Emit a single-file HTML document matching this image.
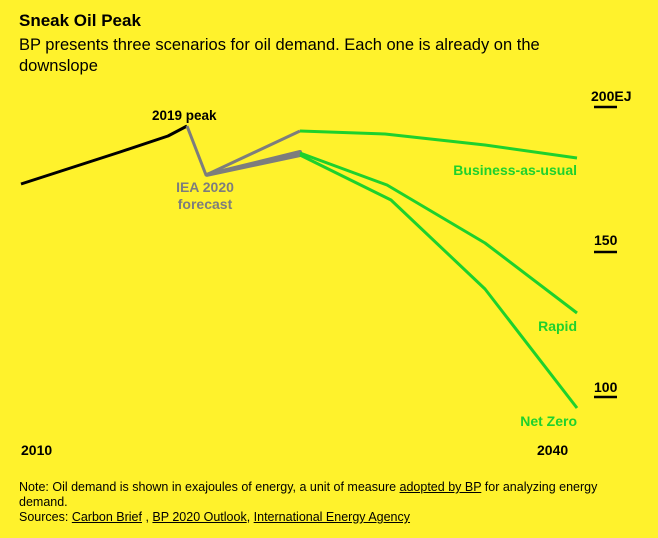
<!DOCTYPE html>
<html><head><style>
body{margin:0;width:658px;height:538px;background:#fff22c;font-family:"Liberation Sans",sans-serif;overflow:hidden;position:relative}
.t{position:absolute;white-space:nowrap}
a{color:#000;text-decoration:underline}
</style></head><body>
<div class="t" style="left:19px;top:11px;font-size:17px;font-weight:bold">Sneak Oil Peak</div>
<div class="t" style="left:19px;top:35px;font-size:16.5px;line-height:21px;white-space:normal;width:600px">BP presents three scenarios for oil demand. Each one is already on the downslope</div>
<svg width="658" height="538" style="position:absolute;left:0;top:0" font-family="Liberation Sans,sans-serif" font-weight="bold">
<g fill="none" stroke-width="3" stroke-linejoin="round">
<polyline points="21,184 120,152 168,136 187,126" stroke="#000"/>
<polyline points="187,126 206,175 300,131" stroke="#7d7d7d"/>
<polyline points="206,175 300,152 300,155 206,175" stroke="#7d7d7d" stroke-width="4"/>
<polyline points="300,131 385,134 485,145 577,158" stroke="#1ed12c"/>
<polyline points="300,153 387,185 485,243 577,313" stroke="#1ed12c"/>
<polyline points="300,155 391,200 485,289 577,408" stroke="#1ed12c"/>
</g>
<g stroke="#000" stroke-width="2.5"><line x1="594" y1="107" x2="617" y2="107"/><line x1="594" y1="252" x2="617" y2="252"/><line x1="594" y1="397" x2="617" y2="397"/></g>
<g font-size="14">
<text x="591" y="101">200EJ</text>
<text x="594" y="245">150</text>
<text x="594" y="392">100</text>
<text x="21" y="455">2010</text>
<text x="537" y="455">2040</text>
<text x="152" y="120" font-size="13.5">2019 peak</text>
<text x="205" y="192" fill="#7d7d7d" text-anchor="middle">IEA 2020</text>
<text x="205" y="209" fill="#7d7d7d" text-anchor="middle">forecast</text>
<text x="577" y="175" fill="#1ed12c" text-anchor="end">Business-as-usual</text>
<text x="577" y="331" fill="#1ed12c" text-anchor="end">Rapid</text>
<text x="577" y="426" fill="#1ed12c" text-anchor="end">Net Zero</text>
</g>
</svg>
<div class="t" style="left:19px;top:480px;font-size:12.5px;line-height:15px;white-space:normal;width:600px">Note: Oil demand is shown in exajoules of energy, a unit of measure <a>adopted by BP</a> for analyzing energy demand.<br>Sources: <a>Carbon Brief</a> , <a>BP 2020 Outlook</a>, <a>International Energy Agency</a></div>
</body></html>
